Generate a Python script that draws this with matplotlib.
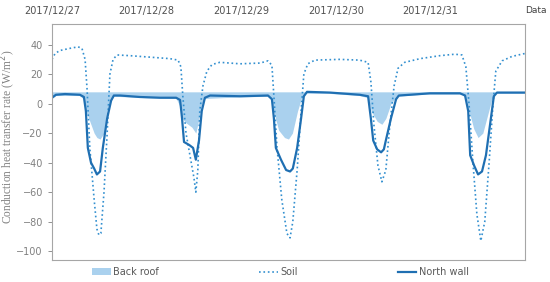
import matplotlib.pyplot as plt

# hours since 2017/12/27 00:00
day_labels = ['2017/12/27', '2017/12/28', '2017/12/29', '2017/12/30', '2017/12/31']
day_hours = [0, 24, 48, 72, 96]

soil_h = [0, 0.8, 2, 4.6, 6.6, 7.6, 8.4, 8.9, 9.6, 10.7, 11.4, 11.9, 12.4, 13.2, 14, 14.7, 15.5, 16.5,
          19.8, 24.9, 29.9, 32, 32.7, 33.2, 34, 35, 36, 36.5, 37, 37.5, 38.3, 39.3, 40.6, 42.6, 47.7,
          52.8, 54.8, 55.8, 56.3, 57.1, 58.3, 59.6, 60.4, 61.1, 62.2, 63.2, 63.9, 64.9, 66.7, 73, 78,
          80.2, 80.9, 81.7, 82.7, 83.7, 84.7, 85.7, 86.8, 87.8, 89.5, 93.4, 98.4, 102.2, 104, 105,
          105.8, 106.8, 107.8, 108.8, 109.8, 110.9, 111.9, 112.6, 114.2, 116.7, 120]
soil_v = [30, 34, 36, 37.5, 38.5, 37.5, 30, 10, -30, -65, -85, -89, -88, -60, -20, 20, 30, 33,
          32.5, 31.5, 30.5, 29.5, 25, 5, -20, -35, -50, -60, -45, -5, 12, 22, 26.5, 28, 27,
          27.5, 29, 26, 5, -30, -65, -88, -91, -80, -45, -5, 20, 27, 29.5, 30, 29.5,
          28, 15, -15, -42, -53, -45, -15, 12, 24, 28, 30.5, 32.5, 33.5, 33, 25,
          0, -40, -75, -93, -80, -40, 0, 22, 29, 32, 34]

wall_h = [0, 1, 3.3, 7.1, 8.1, 8.6, 9.1, 9.9, 10.7, 11.4, 12.2, 12.9, 14, 15, 15.7, 17.3, 22.3, 27.4,
          31.5, 32.5, 33, 33.5, 34.8, 35.8, 36.5, 37.3, 38, 38.8, 40.1, 47.7, 54.8, 55.8, 56.3, 56.8,
          58.1, 59.4, 60.4, 61.1, 62.2, 63.2, 63.9, 64.7, 70.5, 78.1, 80.2, 80.9, 81.5, 82.5, 83.5,
          84.2, 84.7, 86, 87.3, 88, 90.8, 95.9, 103.5, 104.8, 105.6, 106.1, 107.1, 108.1, 109.1,
          110.1, 111.1, 112.1, 112.9, 120]
wall_v = [4, 6, 6.5, 6, 4.5, -5, -30, -40, -44, -48, -46, -30, -10, 2, 5.5, 5.5, 4.5, 4,
          4, 2.5, -10, -26, -28, -30, -38, -25, -5, 4, 5.5, 5, 5.5, 3, -10, -30,
          -38, -45, -46, -44, -30, -10, 5, 8, 7.5, 6, 5, -10, -25, -31, -33,
          -31, -25, -10, 3, 5.5, 6, 7, 7, 5.5, -5, -35, -42, -48, -46,
          -35, -15, 5, 7.5, 7.5]

roof_h = [0, 1, 7, 8.1, 8.6, 9.6, 10.7, 11.4, 12.2, 13.2, 14, 14.7, 15.7, 24, 31.5, 32.5, 33, 34,
          35.5, 36.5, 37.3, 38, 38.8, 47, 55, 55.8, 56.5, 57.5, 59, 60, 61, 62.3, 63.2, 64.5, 70, 78,
          80.2, 81, 82.5, 83.7, 84.7, 86, 87.5, 95, 104, 105, 105.8, 107, 108.1, 109.3, 110.5,
          111.5, 112.5, 120]
roof_v = [3.5, 5.5, 5.5, 3, -5, -12, -20, -23, -24, -20, -5, 2, 5, 4, 3.5, -2, -10, -13,
          -16, -20, -10, 0, 3.5, 4.5, 5, 2, -8, -18, -23, -24, -20, -5, 3, 7, 7, 5.5,
          4, -5, -12, -14, -10, 0, 5, 6.5, 6.5, 4, -5, -17, -23, -20, -8,
          2, 7, 7]
roof_base = 8  # horizontal axis crossing

fig = plt.figure(figsize=(5.5, 2.82), dpi=100)
ax = fig.add_axes([0.0945, 0.078, 0.86, 0.837])

ax.fill_between(roof_h, roof_v, roof_base, color='#aad1ee', lw=0, label='Back roof')
ax.plot(soil_h, soil_v, ':', color='#3390d0', lw=1.2, label='Soil')
ax.plot(wall_h, wall_v, '-', color='#1f6fb2', lw=1.6, label='North wall')

ax.set_xlim(0, 120)
ax.set_ylim(-106, 54)
ax.set_yticks(range(-100, 41, 20))
ax.tick_params(axis='y', labelsize=7, colors='#808080', length=3, width=0.6)
ax.set_xticks(day_hours)
ax.set_xticklabels(day_labels)
ax.xaxis.tick_top()
ax.tick_params(axis='x', labelsize=7, colors='#505050', length=0, pad=6)
for s in ax.spines.values():
    s.set_color('#a6a6a6')
    s.set_linewidth(0.8)

ax.set_ylabel('Conduction heat transfer rate (W/m$^2$)', family='Liberation Serif',
              fontsize=8.3, color='#808080')
ax.yaxis.set_label_coords(-0.072, 0.52)
fig.text(0.975, 0.963, 'Data', fontsize=6.5, color='#404040', ha='center', va='center')

fig.legend(loc='center', bbox_to_anchor=(0.51, 0.035), ncol=3, frameon=False, fontsize=7,
           columnspacing=10.3, handlelength=1.9, handletextpad=0.25, labelcolor='#595959')

plt.savefig('out.png', dpi=100)
